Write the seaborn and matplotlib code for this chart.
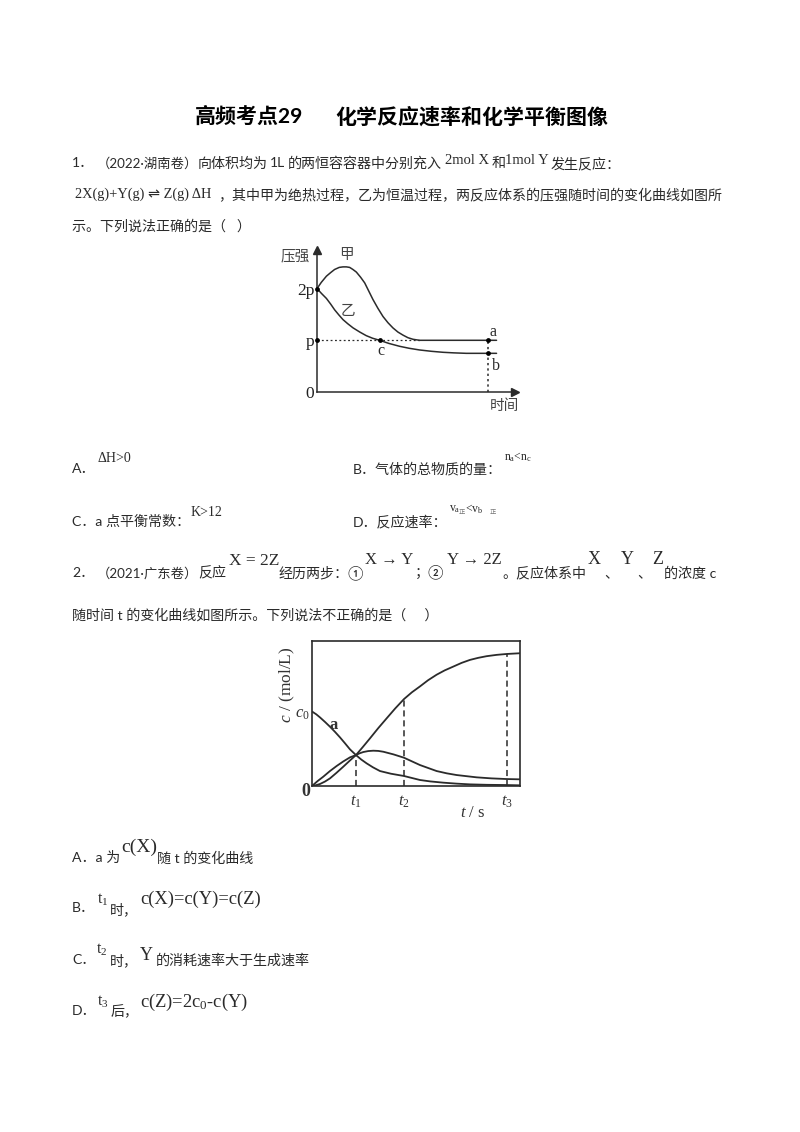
import pandas as pd
import seaborn as sns
import matplotlib.pyplot as plt

# chart 1: pressure vs time (p units, time scaled so the a/b points sit at 1)
jia_t = [0, .025, .055, .08, .103, .13, .152, .172, .191, .21, .23, .255, .279, .303, .327, .356, .386, .415, .444, .473, .503, .532, .561, .58, .600, 1.05]
jia_p = [2.0, 2.12, 2.24, 2.31, 2.37, 2.41, 2.42, 2.42, 2.41, 2.37, 2.32, 2.22, 2.11, 1.95, 1.79, 1.62, 1.46, 1.34, 1.24, 1.16, 1.10, 1.05, 1.02, 1.01, 1.0, 1.0]
yi_t = [0, .028, .055, .08, .103, .128, .152, .18, .211, .25, .288, .325, .366, .42, .483, .54, .600, .67, .737, .80, .873, 1.05]
yi_p = [2.0, 1.90, 1.81, 1.70, 1.59, 1.49, 1.40, 1.32, 1.24, 1.16, 1.09, 1.04, 1.0, .94, .884, .845, .813, .787, .768, .757, .748, .748]
pt_t = [0, 0, .366, 1, 1]
pt_p = [2, 1, 1, 1, .748]
p_ticks = [0, 1, 2]
p_labels = ['0', 'p', '2p']

# chart 2: concentration vs time
x_t = [0, .09, .176, .29, .405, .52, .634, .75, .863, 1, 1.12, 1.244, 1.39, 1.55, 1.8, 2.1, 2.466, 2.7, 3.0, 3.3, 3.61, 4.0, 4.45, 4.756]
x_c = [1.0, .965, .923, .862, .797, .727, .653, .572, .491, .414, .354, .302, .248, .198, .162, .131, .077, .058, .041, .028, .018, .012, .009, .005]
y_t = [0, .12, .252, .4, .557, .71, .863, 1, 1.08, 1.168, 1.28, 1.397, 1.51, 1.626, 1.86, 2.1, 2.466, 2.847, 3.08, 3.305, 3.763, 4.1, 4.45, 4.756]
y_c = [0, .062, .122, .196, .266, .328, .383, .414, .437, .455, .468, .473, .470, .459, .423, .378, .279, .198, .167, .144, .113, .099, .090, .086]
z_t = [0, .08, .176, .29, .405, .55, .71, .85, 1, 1.16, 1.321, 1.51, 1.702, 1.9, 2.1, 2.28, 2.466, 2.65, 2.847, 3.03, 3.229, 3.42, 3.61, 3.8, 3.99, 4.22, 4.45, 4.756]
z_c = [0, .006, .023, .056, .099, .172, .257, .334, .414, .525, .640, .778, .910, 1.045, 1.171, 1.262, 1.342, 1.425, 1.5, 1.558, 1.61, 1.66, 1.70, 1.728, 1.75, 1.768, 1.78, 1.79]
t_marks = [1, 2.1, 4.45]
t_tops = [.414, 1.171, 1.78]
t_labels = ['$\\mathit{t}_1$', '$\\mathit{t}_2$', '$\\mathit{t}_3$']

sns.set_style('white')
plt.rcParams['font.family'] = ['Lato', 'Noto Sans CJK SC', 'DejaVu Sans']
plt.rcParams['mathtext.fontset'] = 'custom'
plt.rcParams['mathtext.rm'] = 'Liberation Serif'
plt.rcParams['mathtext.it'] = 'Liberation Serif:italic'

SERIF = ['Liberation Serif', 'DejaVu Sans']
INK = '#2b2b2b'
W, H = 800, 1132

fig = plt.figure(figsize=(8, 11.32), dpi=100)


def put(x, y, s, size=10.1, **kw):
    kw.setdefault('color', '#2a2a2a')
    fig.text(x / W, 1 - y / H, s, fontsize=size, va='center', **kw)


def serif(x, y, s, size=11, **kw):
    put(x, y, s, size=size, family=SERIF, **kw)


def box(left, top, right, bottom):
    return fig.add_axes([left / W, 1 - bottom / H, (right - left) / W, (bottom - top) / H])


# text of the page
put(195, 117, '高频考点29', size=15.1, fontweight='bold', color='black')
put(335, 117, '化学反应速率和化学平衡图像', size=15.1, fontweight='bold', color='black')

put(72, 163, '1．')
put(97, 163, '（2022·湖南卷）', size=9.6)
put(198, 163, '向体积均为')
put(270, 163, '1L')
put(288, 163, '的两恒容容器中分别充入')
serif(445, 160, '2mol X', size=10.5)
put(492, 163, '和')
serif(505, 160, '1mol Y', size=10.5)
put(551, 163, '发生反应：')
serif(75, 194, '2X(g)+Y(g) ⇌ Z(g) ΔH', size=10.4)
put(218, 195, '，其中甲为绝热过程，乙为恒温过程，两反应体系的压强随时间的变化曲线如图所')
put(72, 226, '示。下列说法正确的是（   ）')

put(72, 469, 'A．')
serif(97, 459, 'ΔH>0', size=10)
put(353, 469, 'B．气体的总物质的量：')
serif(504, 457, '$\\mathrm{n_a}$<$\\mathrm{n_c}$', size=8.5)
put(72, 521, 'C．a 点平衡常数：')
serif(191, 512, 'K>12', size=10)
put(353, 521, 'D．反应速率：')
serif(449, 509, '$\\mathrm{v_a}$', size=8.5)
put(459, 513, '正', size=4.5, color='#777777')
serif(465, 509, '<$\\mathrm{v_b}$', size=8.5)
put(490, 513, '正', size=4.5, color='#777777')

put(72, 573, '2．')
put(97, 573, '（2021·广东卷）', size=9.6)
put(198, 573, '反应')
serif(229, 561, 'X = 2Z', size=12.5)
put(279, 573, '经历两步：①')
serif(365, 560, 'X → Y', size=12)
put(415, 573, '；②')
serif(447, 560, 'Y → 2Z', size=12)
put(502, 573, '。反应体系中')
serif(588, 560, 'X', size=13)
put(604, 573, '、')
serif(621, 560, 'Y', size=13)
put(637, 573, '、')
serif(652, 560, 'Z', size=13)
put(664, 573, '的浓度 c')
put(72, 615, '随时间 t 的变化曲线如图所示。下列说法不正确的是（     ）')

put(72, 857, 'A．a 为')
serif(121, 847, 'c(X)', size=14)
put(157, 858, '随 t 的变化曲线')
put(72, 908, 'B．')
serif(97, 900, '$\\mathrm{t_1}$', size=11.5)
put(110, 909, '时，')
serif(140, 899, 'c(X)=c(Y)=c(Z)', size=13.3)
put(72, 960, 'C．')
serif(96, 950, '$\\mathrm{t_2}$', size=11.5)
put(110, 960, '时，')
serif(140, 955, 'Y', size=13)
put(156, 960, '的消耗速率大于生成速率')
put(72, 1011, 'D．')
serif(97, 1002, '$\\mathrm{t_3}$', size=11.5)
put(111, 1011, '后，')
serif(140, 1002, 'c(Z)=2c$\\mathrm{_0}$-c(Y)', size=13.3)

# chart 1
ax1 = box(317, 250, 515, 392)
ax1.set_xlim(0, 198 / 171)
ax1.set_ylim(0, 142 / 51.7)
sns.lineplot(data=pd.DataFrame({'t': jia_t, 'p': jia_p}), x='t', y='p', sort=False, errorbar=None, color=INK, lw=1.1, ax=ax1)
sns.lineplot(data=pd.DataFrame({'t': yi_t, 'p': yi_p}), x='t', y='p', sort=False, errorbar=None, color=INK, lw=1.1, ax=ax1)
ax1.plot([0, .6], [1, 1], ls=(0, (1.5, 2)), color=INK, lw=.9)
ax1.plot([1, 1], [0, 1], ls=(0, (1.5, 2)), color=INK, lw=1.1)
sns.scatterplot(x=pt_t, y=pt_p, color='black', s=12, linewidth=0, clip_on=False, zorder=5, ax=ax1)
ax1.plot(1, 0, '>', color=INK, ms=6, transform=ax1.transAxes, clip_on=False)
ax1.plot(0, 1, '^', color=INK, ms=6, transform=ax1.transAxes, clip_on=False)
ax1.spines[['top', 'right']].set_visible(False)
ax1.spines[['left', 'bottom']].set_color(INK)
ax1.spines[['left', 'bottom']].set_linewidth(1.1)
ax1.set_xticks([])
ax1.set_yticks(p_ticks)
ax1.set_yticklabels(p_labels, family=SERIF, fontsize=12.5, color='#222222')
ax1.tick_params(axis='y', length=0, pad=2)
ax1.set_xlabel('')
ax1.set_ylabel('')
ax1.patch.set_alpha(0)

put(295, 256, '压强', size=10.5, ha='center', color='#444444', fontweight='light')
put(504, 406, '时间', size=10.5, ha='center', color='#444444', fontweight='light')
put(346, 255, '甲', size=10.5, ha='center', color='#444444', fontweight='light')
put(348, 311, '乙', size=10.5, ha='center', color='#444444', fontweight='light')
serif(493, 332, 'a', size=11.5, ha='center')
serif(381, 351, 'c', size=11.5, ha='center')
serif(496, 366, 'b', size=11.5, ha='center')

# chart 2
ax2 = box(312.3, 640.7, 520, 785.7)
ax2.set_xlim(0, 623 / 131)
ax2.set_ylim(0, 435 / 222)
for ts, cs in [(x_t, x_c), (y_t, y_c), (z_t, z_c)]:
    sns.lineplot(data=pd.DataFrame({'t': ts, 'c': cs}), x='t', y='c', sort=False, errorbar=None, color=INK, lw=1.3, ax=ax2)
ax2.vlines(t_marks, 0, t_tops, color=INK, lw=1.1, linestyles=(0, (4, 2.5)))
for side in ax2.spines.values():
    side.set_color(INK)
    side.set_linewidth(1.2)
ax2.set_xticks(t_marks)
ax2.set_xticklabels(t_labels, fontsize=12, color='#333333')
ax2.set_yticks([1])
ax2.set_yticklabels(['$\\mathit{c}_0$'], fontsize=12, color='#333333')
ax2.tick_params(length=0, pad=6)
ax2.tick_params(axis='y', pad=2)
ax2.set_xlabel('')
ax2.set_ylabel('')

serif(334, 725, 'a', size=12, ha='center', fontweight='bold', color='#333333')
serif(306, 792, '0', size=13, ha='center', fontweight='bold', color='#333333')
serif(473, 813, '$\\mathit{t}$ / s', size=12, ha='center', color='#333333')
serif(287, 685, '$\\mathit{c}$ / (mol/L)', size=12.5, ha='center', rotation=90, color='#333333')

fig.savefig('out.png', dpi=100, facecolor='white')
